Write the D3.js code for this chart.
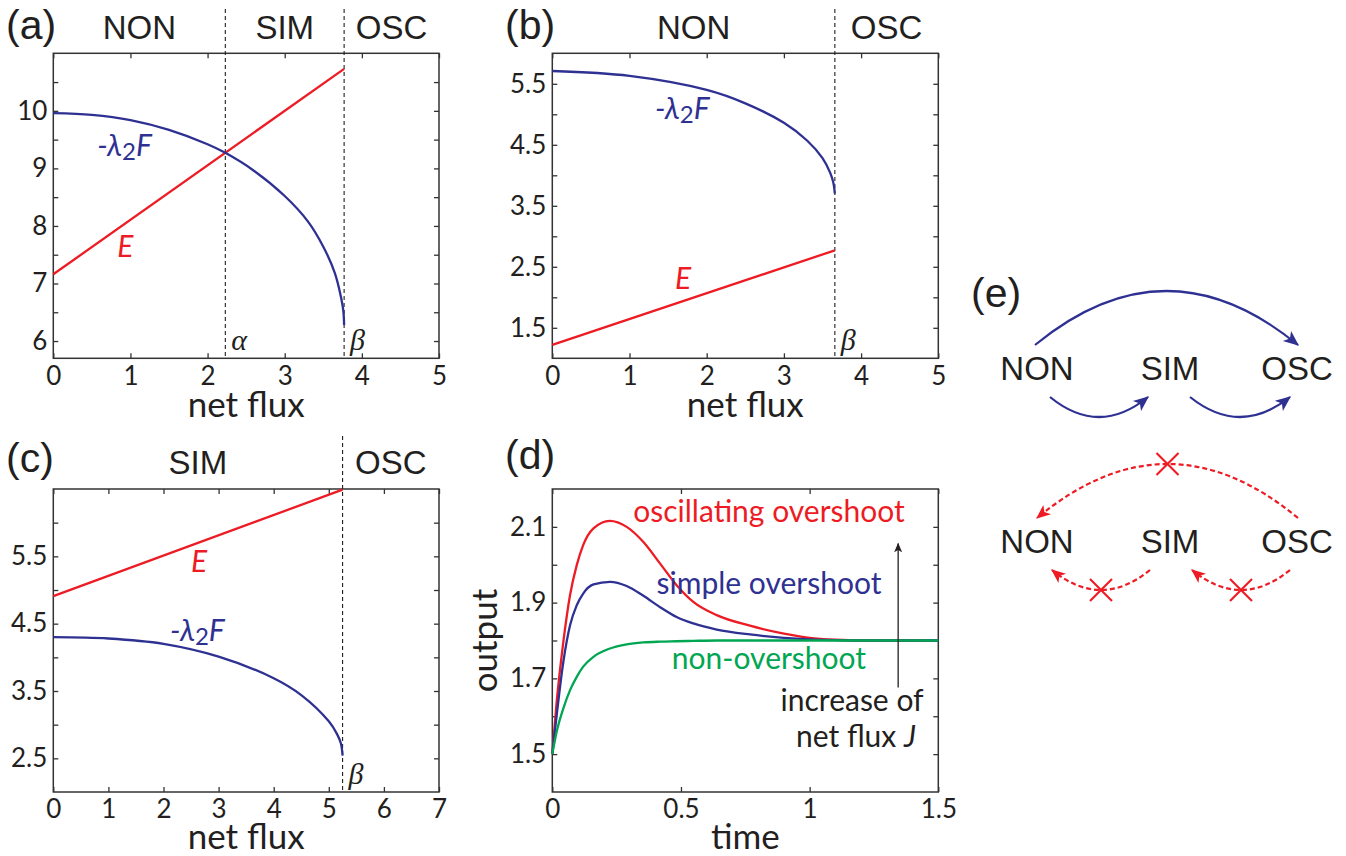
<!DOCTYPE html>
<html>
<head>
<meta charset="utf-8">
<script src="https://cdn.jsdelivr.net/npm/d3@7"></script>
<style>
  body { margin: 0; background: #fff; }
  text { fill: #231f20; }
</style>
</head>
<body>
<svg id="fig" width="1346" height="856"></svg>
<script>
// ---------- data ----------
// (a)
var fluxA   = [0, 0.5, 1, 1.5, 2, 2.23, 2.6, 3, 3.3, 3.5, 3.65, 3.73, 3.76, 3.77];
var lamA    = [9.96, 9.93, 9.84, 9.67, 9.42, 9.27, 8.96, 8.52, 8.08, 7.64, 7.18, 6.76, 6.52, 6.28];
var eFluxA  = [0, 3.77];
var eA      = [7.16, 10.73];
var bordersA = [0, 2.23, 3.77, 5];
var regionsA = ["NON", "SIM", "OSC"];
// (b)
var fluxB   = [0, 1, 2, 2.5, 3, 3.3, 3.5, 3.6, 3.64, 3.66];
var lamB    = [5.71, 5.63, 5.40, 5.18, 4.86, 4.57, 4.28, 4.04, 3.88, 3.70];
var eFluxB  = [0, 3.66];
var eB      = [1.22, 2.77];
var bordersB = [0, 3.66, 5];
var regionsB = ["NON", "OSC"];
// (c)
var fluxC   = [0, 1, 2, 3, 4, 4.5, 5, 5.15, 5.22, 5.25];
var lamC    = [4.30, 4.28, 4.20, 4.01, 3.69, 3.44, 3.05, 2.86, 2.72, 2.54];
var eFluxC  = [0, 5.25];
var eC      = [4.91, 6.49];
var bordersC = [0, 5.25, 7];
var regionsC = ["SIM", "OSC"];
// (d)
var time       = [0, 0.017, 0.043, 0.069, 0.095, 0.12, 0.16, 0.224, 0.289, 0.354, 0.419, 0.483, 0.548, 0.639, 0.768, 0.9, 1.0, 1.1, 1.2, 1.35, 1.5];
var oscOut     = [1.5, 1.638, 1.797, 1.92, 1.999, 2.052, 2.096, 2.116, 2.10, 2.06, 2.003, 1.946, 1.902, 1.867, 1.839, 1.818, 1.807, 1.802, 1.80, 1.80, 1.80];
var simOut     = [1.5, 1.603, 1.744, 1.84, 1.893, 1.924, 1.948, 1.955, 1.944, 1.918, 1.888, 1.862, 1.845, 1.829, 1.816, 1.807, 1.803, 1.801, 1.80, 1.80, 1.80];
var nonOut     = [1.5, 1.559, 1.621, 1.669, 1.704, 1.731, 1.757, 1.779, 1.79, 1.795, 1.797, 1.798, 1.799, 1.80, 1.80, 1.80, 1.80, 1.80, 1.80, 1.80, 1.80];
// (e)
var states = ["NON", "SIM", "OSC"];
var transitions = [
  {from: "NON", to: "OSC", row: 0, over: true,  ok: true,  dx0: -2, dx1: 1},
  {from: "NON", to: "SIM", row: 0, over: false, ok: true,  dx0: 13, dx1: -22},
  {from: "SIM", to: "OSC", row: 0, over: false, ok: true,  dx0: 20, dx1: -7},
  {from: "OSC", to: "NON", row: 1, over: true,  ok: false, dx0: 1,  dx1: 0},
  {from: "SIM", to: "NON", row: 1, over: false, ok: false, dx0: -20, dx1: 15},
  {from: "OSC", to: "SIM", row: 1, over: false, ok: false, dx0: -7, dx1: 22}
];

var RED = "#ed1c24", BLUE = "#2e3192", GREEN = "#00a651", INK = "#231f20";
var tickFont = "Lato, 'Open Sans', sans-serif";
var headFont = "'Liberation Sans', Arial, sans-serif";

var svg = d3.select("#fig");
var defs = svg.append("defs");
function marker(id, color, w, h) {
  defs.append("marker")
    .attr("id", id)
    .attr("viewBox", "0 0 12 10")
    .attr("refX", 11).attr("refY", 5)
    .attr("markerUnits", "userSpaceOnUse")
    .attr("markerWidth", w).attr("markerHeight", h)
    .attr("orient", "auto")
    .append("path")
    .attr("d", "M0,0 L12,5 L0,10 L3,5 Z")
    .attr("fill", color);
}
marker("arrBlue", BLUE, 17, 13);
marker("arrRed", RED, 16, 12);
marker("arrBlack", INK, 11, 8);

// ---------- axes frame ----------
var panel = function(o) {
  var x = d3.scaleLinear().domain(o.xDomain).range([o.left, o.right]);
  var y = d3.scaleLinear().domain(o.yDomain).range([o.bottom, o.top]);
  var g = svg.append("g");

  var lab = function(list) { return function(d) { return list.indexOf(d) >= 0 ? String(d) : ""; }; };

  g.append("g").attr("transform", "translate(0," + o.bottom + ")")
    .call(d3.axisBottom(x).tickValues(o.xTicks).tickSize(-5).tickPadding(8).tickFormat(String));
  g.append("g").attr("transform", "translate(0," + o.top + ")")
    .call(d3.axisTop(x).tickValues(o.xTicks).tickSize(-5).tickFormat(""));
  g.append("g").attr("transform", "translate(" + o.left + ",0)")
    .call(d3.axisLeft(y).tickValues(o.yTicks).tickSize(-5).tickPadding(6).tickFormat(lab(o.yLabels)));
  g.append("g").attr("transform", "translate(" + o.right + ",0)")
    .call(d3.axisRight(y).tickValues(o.yTicks).tickSize(-5).tickFormat(""));

  g.selectAll(".domain").remove();
  g.selectAll(".tick line").attr("stroke", "#333").attr("stroke-width", 1.3);
  g.selectAll(".tick text").attr("font-family", tickFont).attr("font-size", 26).attr("fill", INK);

  g.append("rect")
    .attr("x", o.left).attr("y", o.top)
    .attr("width", o.right - o.left).attr("height", o.bottom - o.top)
    .attr("fill", "none").attr("stroke", "#333").attr("stroke-width", 1.5);

  // panel letter
  svg.append("text").attr("x", o.letterX).attr("y", o.letterY)
    .attr("font-family", headFont).attr("font-size", 41).text(o.letter);

  return {x: x, y: y, g: g};
};

var curveLine = function(p, xs, ys, color, curve) {
  p.g.append("path")
    .datum(d3.zip(xs, ys))
    .attr("d", d3.line()
      .x(function(d) { return p.x(d[0]); })
      .y(function(d) { return p.y(d[1]); })
      .curve(curve || d3.curveCatmullRom.alpha(0.5)))
    .attr("fill", "none")
    .attr("stroke", color)
    .attr("stroke-width", 2.3);
};

var regionHeads = function(p, borders, names, baseY, dashTop, greek) {
  names.forEach(function(n, i) {
    svg.append("text")
      .attr("x", p.x((borders[i] + borders[i + 1]) / 2))
      .attr("y", baseY)
      .attr("text-anchor", "middle")
      .attr("font-family", headFont).attr("font-size", 33)
      .text(n);
  });
  var inner = borders.slice(1, -1);
  inner.forEach(function(b, i) {
    p.g.append("line")
      .attr("x1", p.x(b)).attr("x2", p.x(b))
      .attr("y1", dashTop).attr("y2", p.y.range()[0])
      .attr("stroke", INK).attr("stroke-width", 1.1)
      .attr("stroke-dasharray", "4,3");
    p.g.append("text")
      .attr("x", p.x(b) + 6).attr("y", p.y.range()[0] - 8)
      .attr("font-family", "'Liberation Serif', 'DejaVu Serif', serif")
      .attr("font-style", "italic").attr("font-size", 30)
      .text(greek[i]);
  });
};

var lamLabel = function(p, xv, yv) {
  var t = p.g.append("text")
    .attr("x", p.x(xv)).attr("y", p.y(yv))
    .attr("font-family", tickFont).attr("font-style", "italic").attr("font-size", 30)
    .style("fill", BLUE);
  t.append("tspan").text("-λ");
  t.append("tspan").attr("font-style", "normal").attr("font-size", 24).attr("dy", 4).text("2");
  t.append("tspan").attr("dy", -4).text("F");
};
var eLabel = function(p, xv, yv) {
  p.g.append("text")
    .attr("x", p.x(xv)).attr("y", p.y(yv))
    .attr("font-family", tickFont).attr("font-style", "italic").attr("font-size", 30)
    .style("fill", RED).text("E");
};
var xTitle = function(p, txt, baseY) {
  svg.append("text")
    .attr("x", (p.x.range()[0] + p.x.range()[1]) / 2).attr("y", baseY)
    .attr("text-anchor", "middle")
    .attr("font-family", tickFont).attr("font-size", 35)
    .text(txt);
};

// ---------- (a) ----------
var pa = panel({left: 53.3, right: 439, top: 53.3, bottom: 358.3,
  xDomain: [0, 5], yDomain: [5.7, 11],
  xTicks: [0, 1, 2, 3, 4, 5],
  yTicks: [6, 6.5, 7, 7.5, 8, 8.5, 9, 9.5, 10, 10.5], yLabels: [6, 7, 8, 9, 10],
  letter: "(a)", letterX: 6, letterY: 39});
regionHeads(pa, bordersA, regionsA, 39, 9, ["α", "β"]);
curveLine(pa, eFluxA, eA, RED, d3.curveLinear);
curveLine(pa, fluxA, lamA, BLUE);
lamLabel(pa, 0.57, 9.22);
eLabel(pa, 0.83, 7.46);
xTitle(pa, "net flux", 417);

// ---------- (b) ----------
var pb = panel({left: 552.3, right: 938.3, top: 53.3, bottom: 358.3,
  xDomain: [0, 5], yDomain: [1, 6],
  xTicks: [0, 1, 2, 3, 4, 5],
  yTicks: [1.5, 2, 2.5, 3, 3.5, 4, 4.5, 5, 5.5], yLabels: [1.5, 2.5, 3.5, 4.5, 5.5],
  letter: "(b)", letterX: 505, letterY: 39});
regionHeads(pb, bordersB, regionsB, 39, 9, ["β"]);
curveLine(pb, eFluxB, eB, RED, d3.curveLinear);
curveLine(pb, fluxB, lamB, BLUE);
lamLabel(pb, 1.33, 4.92);
eLabel(pb, 1.59, 2.14);
xTitle(pb, "net flux", 417);

// ---------- (c) ----------
var pc = panel({left: 53.3, right: 439, top: 489, bottom: 792,
  xDomain: [0, 7], yDomain: [2, 6.5],
  xTicks: [0, 1, 2, 3, 4, 5, 6, 7],
  yTicks: [2.5, 3, 3.5, 4, 4.5, 5, 5.5, 6], yLabels: [2.5, 3.5, 4.5, 5.5],
  letter: "(c)", letterX: 6, letterY: 472});
regionHeads(pc, bordersC, regionsC, 474, 436, ["β"]);
curveLine(pc, eFluxC, eC, RED, d3.curveLinear);
curveLine(pc, fluxC, lamC, BLUE);
eLabel(pc, 2.50, 5.27);
lamLabel(pc, 2.12, 4.24);
xTitle(pc, "net flux", 849);

// ---------- (d) ----------
var pd = panel({left: 552.3, right: 938.3, top: 489, bottom: 792,
  xDomain: [0, 1.5], yDomain: [1.4, 2.2],
  xTicks: [0, 0.5, 1, 1.5],
  yTicks: [1.5, 1.6, 1.7, 1.8, 1.9, 2.0, 2.1], yLabels: [1.5, 1.7, 1.9, 2.1],
  letter: "(d)", letterX: 505, letterY: 469});
curveLine(pd, time, oscOut, RED, d3.curveMonotoneX);
curveLine(pd, time, simOut, BLUE, d3.curveMonotoneX);
curveLine(pd, time, nonOut, GREEN, d3.curveMonotoneX);
xTitle(pd, "time", 849);
svg.append("text")
  .attr("transform", "translate(497," + ((pd.y.range()[0] + pd.y.range()[1]) / 2) + ") rotate(-90)")
  .attr("text-anchor", "middle")
  .attr("font-family", tickFont).attr("font-size", 35)
  .text("output");

var dNote = function(xv, yv, txt, color) {
  return pd.g.append("text")
    .attr("x", pd.x(xv)).attr("y", pd.y(yv))
    .attr("text-anchor", "middle")
    .attr("font-family", tickFont).attr("font-size", 30)
    .style("fill", color)
    .text(txt);
};
dNote(0.842, 2.114, "oscillating overshoot", RED);
dNote(0.842, 1.924, "simple overshoot", BLUE);
dNote(0.842, 1.726, "non-overshoot", GREEN);
dNote(1.165, 1.613, "increase of", INK);
var nf = dNote(1.18, 1.518, "net flux ", INK);
nf.append("tspan").attr("font-style", "italic").text("J");
pd.g.append("line")
  .attr("x1", pd.x(1.344)).attr("x2", pd.x(1.344))
  .attr("y1", pd.y(1.676)).attr("y2", pd.y(2.056))
  .attr("stroke", INK).attr("stroke-width", 1.3)
  .attr("marker-end", "url(#arrBlack)");

// ---------- (e) ----------
var nodeX = d3.scaleOrdinal().domain(states).range([1037, 1170, 1297]);
var rowBase = [380, 553];
svg.append("text").attr("x", 971).attr("y", 307)
  .attr("font-family", headFont).attr("font-size", 41).text("(e)");
rowBase.forEach(function(by) {
  states.forEach(function(s) {
    svg.append("text")
      .attr("x", nodeX(s)).attr("y", by)
      .attr("text-anchor", "middle")
      .attr("font-family", headFont).attr("font-size", 33)
      .text(s);
  });
});
transitions.forEach(function(t) {
  var by = rowBase[t.row];
  var x0 = nodeX(t.from) + t.dx0, x1 = nodeX(t.to) + t.dx1;
  var y0 = t.over ? by - 35 : by + 17;
  var cy = t.over ? y0 - 108 : y0 + 40;
  var cx = (x0 + x1) / 2;
  var color = t.ok ? BLUE : RED;
  var p = d3.path();
  p.moveTo(x0, y0);
  p.quadraticCurveTo(cx, cy, x1, y0);
  svg.append("path")
    .attr("d", p.toString())
    .attr("fill", "none")
    .attr("stroke", color).attr("stroke-width", 2.2)
    .attr("stroke-dasharray", t.ok ? null : "5,3")
    .attr("marker-end", t.ok ? "url(#arrBlue)" : "url(#arrRed)");
  if (!t.ok) {
    var mx = 0.25 * x0 + 0.5 * cx + 0.25 * x1;
    var my = 0.5 * y0 + 0.5 * cy;
    [[-1, -1], [-1, 1]].forEach(function(s) {
      svg.append("line")
        .attr("x1", mx + s[0] * 11).attr("y1", my + s[1] * 11)
        .attr("x2", mx - s[0] * 11).attr("y2", my - s[1] * 11)
        .attr("stroke", RED).attr("stroke-width", 2.2);
    });
  }
});
</script>
</body>
</html>
